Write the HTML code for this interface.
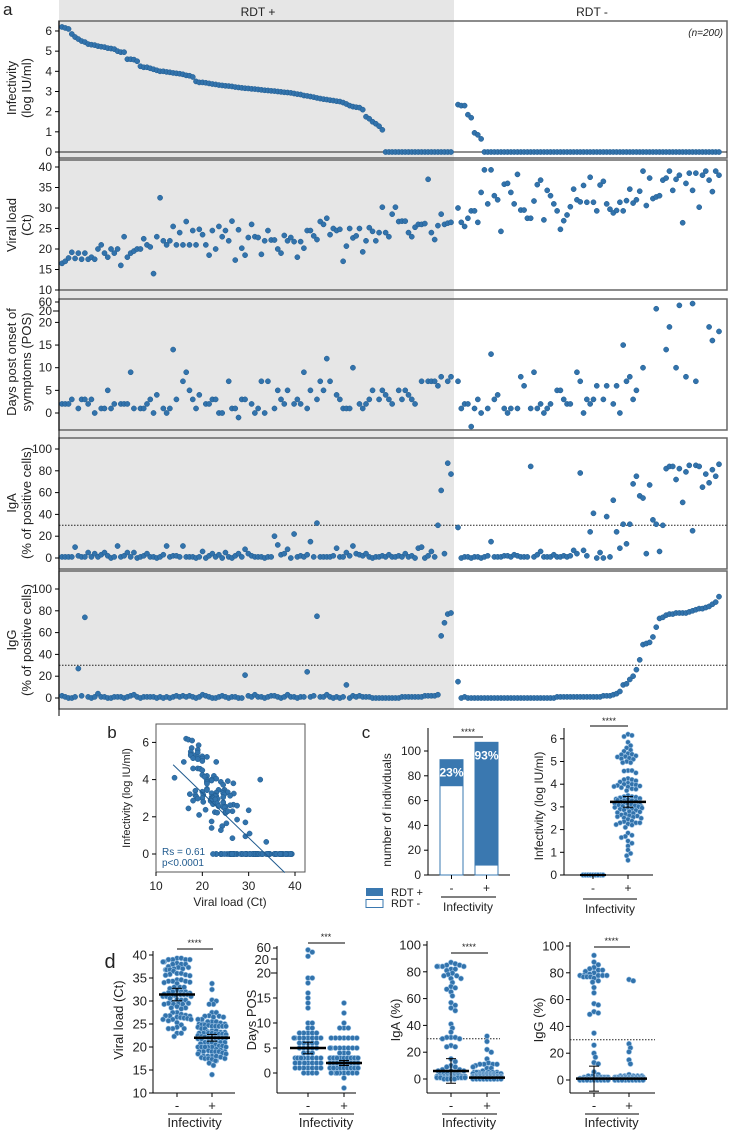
<!DOCTYPE html>
<html><head><meta charset="utf-8"><style>
html,body{margin:0;padding:0;background:#fff}
svg{display:block;font-family:"Liberation Sans",Arial,sans-serif}
</style></head><body>
<svg id="fig" xmlns="http://www.w3.org/2000/svg" width="730" height="1130" viewBox="0 0 730 1130"></svg>
<script>
// ---------- DATA ----------
const infectPos = [6.2,6.15,6.1,5.85,5.7,5.6,5.5,5.45,5.35,5.32,
5.3,5.25,5.22,5.2,5.15,5.13,5.1,5.0,4.95,4.95,
4.6,4.6,4.58,4.5,4.25,4.2,4.2,4.15,4.1,4.05,
4.0,4.0,3.97,3.95,3.92,3.9,3.88,3.85,3.8,3.78,
3.72,3.5,3.45,3.45,3.43,3.4,3.37,3.35,3.32,3.3,
3.28,3.27,3.25,3.22,3.2,3.18,3.16,3.15,3.13,3.12,
3.1,3.08,3.06,3.05,3.03,3.02,3.0,2.98,2.96,2.95,
2.93,2.9,2.87,2.85,2.8,2.78,2.75,2.72,2.68,2.65,
2.62,2.6,2.57,2.55,2.52,2.5,2.45,2.38,2.3,2.25,
2.22,2.2,2.1,1.75,1.65,1.5,1.4,1.28,1.1,0,
0,0,0,0,0,0,0,0,0,0,
0,0,0,0,0,0,0,0,0,0];
const infectNeg = [2.35,2.3,2.3,1.85,1.7,0.95,0.85,0.65,0,0,
0,0,0,0,0,0,0,0,0,0, 0,0,0,0,0,0,0,0,0,0, 0,0,0,0,0,0,0,0,0,0,
0,0,0,0,0,0,0,0,0,0, 0,0,0,0,0,0,0,0,0,0, 0,0,0,0,0,0,0,0,0,0, 0,0,0,0,0,0,0,0,0,0];
const viralPos = [16.5,17,17.8,19.2,17.7,19,17.5,19,17.5,18,
17.5,20,21,19,18,20,19,20,16,23,
18,19,19.5,20,20,22.5,21,20.5,14,23,
32.5,22,21,22,25.5,21,24,21,26.7,21,
24.5,21,24.8,23.5,21,18.5,24.5,20,25.5,23,
24.5,22,26.8,17.3,24.7,20.2,18.5,22.8,26,23,
22.8,18.7,22,24.5,22.2,22.2,20,19,23.3,22,
22.8,21.8,18,21.8,20.2,24.5,24.5,23.2,22.3,26.7,
26,27.5,23.5,25,24.5,24.8,17,20.7,25,22.7,
23.2,25,19.3,22,25.2,24.3,22,24,30.2,24,
23,28.5,30.2,26.7,26.8,26.8,24,23,25.3,26,
26,26.2,37,24,22.3,25.7,28.5,26,26.3,26.5];
const viralNeg = [30,26.5,25.5,27.5,29.3,29.3,26.5,33.8,39.3,31,
39.3,33,32,24.3,35.8,36,33.8,31,38.2,29.5,
29.5,27.5,27.5,31.7,35.7,36.8,27.1,34.3,33,31,
29.3,24.8,26.9,28.3,30.3,34.6,32,31.5,35.5,31.4,
37.5,31.4,29.3,35.6,36.5,31,29.7,28.8,29.4,31.4,
29.3,31.8,34.6,31.2,32,34.1,39,30.6,37.3,32.3,
32.7,33,36.8,37.3,39,34.3,37,38,26.4,36,
38.5,34.3,38.5,30.2,38,39,36.8,34,39,38];
const daysPos = [2,2,2,3,null,1,3,3,2,3,
0,null,1,1,5,1,2,null,2,2,
2,9,1,null,1,1,2,3,0,4,
null,1,0,1,14,3,null,7,9,5,
3,1,4,null,2,2,3,3,0,0,
null,7,1,1,-1,3,3,null,2,0,
1,7,0,7,null,1,5,3,2,5,
null,2,3,2,9,1,5,null,3,7,
5,12,7,null,4,3,1,1,1,10,
null,2,1,2,3,5,null,3,5,4,
3,2,null,5,3,5,4,3,2,null,
7,null,7,7,7,6,8,null,7,8];
const daysNeg = [7,1,2,2,-3,1,3,0,null,1,
13,3,4,null,1,0,1,null,1,8,
6,null,1,9,1,2,0,1,2,null,
5,5,3,2,2,null,9,7,0,3,
2,3,6,null,3,6,null,2,6,0,
15,7,8,3,5,null,10,null,null,null,
30,null,null,14,19,null,10,45,null,8,
null,53,7,null,null,null,19,16,null,18];
const igaPos = [1,1,1,1,10,2,1,1,5,1,
4,1,3,5,2,0,1,11,1,2,
5,1,5,0,1,2,4,1,1,0,
1,3,11,1,2,2,1,11,1,1,
1,0,1,6,0,2,4,1,3,0,
5,1,0,2,4,1,8,4,2,1,
1,1,0,1,1,20,12,3,4,8,
0,22,1,2,1,3,15,1,32,1,
1,1,1,2,9,1,1,5,2,11,
4,3,2,4,1,0,1,1,2,1,
3,1,1,2,1,4,1,2,0,9,
10,0,2,6,1,30,62,4,87,77];
const igaNeg = [28,0,1,1,0,1,1,0,1,2,
15,1,1,1,2,2,1,3,2,1,
1,1,84,1,3,6,1,1,1,3,
1,1,2,1,2,7,4,78,7,2,
24,41,0,5,0,38,1,53,24,9,
31,13,31,68,75,57,55,4,67,35,
31,6,30,82,84,84,72,82,51,79,
85,25,85,84,65,77,69,81,75,86];
const iggPos = [2,1,0,0,1,27,2,74,1,0,
1,4,1,1,0,0,1,1,1,0,
1,2,3,1,0,1,1,1,1,0,
1,0,1,0,1,2,1,2,1,2,
1,0,1,3,2,1,0,0,1,2,
1,0,1,1,0,0,21,2,1,3,
1,1,0,1,2,2,1,0,1,3,
1,1,0,1,1,24,1,2,75,1,
1,3,1,0,1,0,1,12,0,2,
1,2,1,1,1,0,0,0,0,0,
0,0,0,0,1,1,1,1,1,1,
1,2,2,2,2,3,57,69,77,78];
const iggNeg = [15,0,1,0,0,0,0,0,0,0,
0,0,0,0,0,0,0,0,0,0,
0,0,0,0,0,0,0,0,0,0,
1,1,1,1,1,1,1,1,1,1,
1,1,1,1,2,2,2,3,4,6,
12,13,17,20,26,35,49,50,51,56,
65,73,74,76,77,77,78,78,78,78,
79,80,81,82,82,83,84,86,88,93];
const panelTicks1 = [0,1,2,3,4,5,6];
const panelTicks2 = [10,15,20,25,30,35,40];
const panelTicks3 = [0,5,10,15,20];
const pctTicks = [0,20,40,60,80,100];
const regression = {x0:13.7, y0:4.8, x1:37.8, slope:-0.2407};
const rsText = ["Rs = 0.61","p<0.0001"];

// ---------- HELPERS ----------
const NS="http://www.w3.org/2000/svg";
const svg=document.getElementById('fig');
const BLUE="#3273ac", DARK="#1f5a8e";
function mk(tag, attrs, name, inter){
  const e=document.createElementNS(NS,tag);
  for(const k in attrs) e.setAttribute(k,attrs[k]);
  
  
  svg.appendChild(e); return e;
}
function line(x1,y1,x2,y2,name,st,w,dash){
  const a={x1,y1,x2,y2,stroke:st||'#000','stroke-width':w||1};
  if(dash) a['stroke-dasharray']=dash;
  return mk('line',a,name,false);
}
function text(x,y,s,name,opt){
  opt=opt||{};
  const a={x,y,'font-size':opt.size||12,'text-anchor':opt.anchor||'middle',fill:opt.fill||'#222'};
  if(opt.rot!=null) a.transform=`rotate(${opt.rot} ${x} ${y})`;
  if(opt.italic) a['font-style']='italic';
  if(opt.weight) a['font-weight']=opt.weight;
  const t=mk('text',a,name,false); t.textContent=s; return t;
}
function dot(x,y,r,name,stroke){
  return mk('circle',{cx:x.toFixed(2),cy:y.toFixed(2),r,fill:BLUE,stroke:stroke||DARK,'stroke-width':stroke?0.6:0.5},name,false);
}

// ---------- PANEL A ----------
mk('rect',{x:59,y:0,width:395,height:709,fill:'#e6e6e6'},'rdt-positive-shading',false);
text(258,16,'RDT +','rdt-positive-header',{size:12});
text(592,16,'RDT -','rdt-negative-header',{size:12});
text(3,15,'a','panel-a-label',{size:17,anchor:'start'});
const xPos=i=>62+i*(451-62)/(infectPos.length-1);
const xNeg=k=>458+k*(719-458)/(infectNeg.length-1);

function daysY(top,v,zero,scale,b20,b60){ if(v<=20) return zero-v*scale; return b20-(v-20)*(b20-b60)/40; }

const panels=[
 {name:'infectivity',pos:infectPos,neg:infectNeg,top:21,bot:158,y:v=>152-v*20.17,ticks:panelTicks1,lab:['Infectivity','(log IU/ml)'],ly:88},
 {name:'viral-load',pos:viralPos,neg:viralNeg,top:160,bot:290,y:v=>290-(v-10)*4.1,ticks:panelTicks2,lab:['Viral load','(Ct)'],ly:225},
 {name:'days-pos',pos:daysPos,neg:daysNeg,top:299,bot:430,y:v=>daysY(0,v,413,4.53,311,302),ticks:panelTicks3,lab:['Days post onset of','symptoms (POS)'],ly:362,broken:true},
 {name:'iga',pos:igaPos,neg:igaNeg,top:438,bot:569,y:v=>558-v*1.09,ticks:pctTicks,lab:['IgA','(% of positive cells)'],ly:503,thr:30},
 {name:'igg',pos:iggPos,neg:iggNeg,top:571,bot:709,y:v=>698-v*1.09,ticks:pctTicks,lab:['IgG','(% of positive cells)'],ly:640,thr:30}
];
panels.forEach(p=>{
  mk('rect',{x:59,y:p.top,width:668,height:p.bot-p.top,fill:'none',stroke:'#666','stroke-width':1.5},p.name+'-panel-frame',false);
  p.ticks.forEach(t=>{const y=p.y(t); line(55,y,59,y,p.name+'-tick'); text(52,y+4,String(t),p.name+'-tick-label',{anchor:'end',size:12});});
  if(p.broken){
    line(55,302,59,302,'days-tick-60'); text(52,306,'60','days-tick-label-60',{anchor:'end',size:12});
    line(53,311,59,311,'days-tick-20-upper'); text(52,315,'20','days-tick-label-20-upper',{anchor:'end',size:12});
  }
  if(p.thr!=null) line(59,p.y(p.thr),727,p.y(p.thr),p.name+'-threshold-line','#222',1,'1.5,1.5');
  if(p.name==='infectivity') line(59,152,727,152,'infectivity-zero-line','#222',1);
  text(16,p.ly,p.lab[0],p.name+'-axis-title',{rot:-90,size:13});
  text(31,p.ly,p.lab[1],p.name+'-axis-title-units',{rot:-90,size:13});
  p.pos.forEach((v,i)=>{ if(v!=null) dot(xPos(i),p.y(v),2.6,p.name+'-point-rdt-pos'); });
  p.neg.forEach((v,k)=>{ if(v!=null) dot(xNeg(k),p.y(v),2.6,p.name+'-point-rdt-neg'); });
});
line(59,21,59,716,'panel-a-y-axis');
text(723,36,'(n=200)','sample-size-note',{anchor:'end',size:10,italic:true});

// ---------- PANEL B ----------
text(112,738,'b','panel-b-label',{size:17});
const bx=c=>156+(c-10)*4.633, by=v=>854-v*18.6;
mk('rect',{x:156,y:724,width:149,height:148,fill:'none',stroke:'#555','stroke-width':1},'scatter-frame',false);
[10,20,30,40].forEach(t=>{line(bx(t),872,bx(t),876,'scatter-x-tick'); text(bx(t),890,String(t),'scatter-x-tick-label',{size:12});});
[0,2,4,6].forEach(t=>{line(152,by(t),156,by(t),'scatter-y-tick'); text(149,by(t)+4,String(t),'scatter-y-tick-label',{anchor:'end',size:12});});
text(230,906,'Viral load (Ct)','scatter-x-axis-title',{size:12});
text(130,798,'Infectivity (log IU/ml)','scatter-y-axis-title',{rot:-90,size:11});
const allInf=infectPos.concat(infectNeg), allVir=viralPos.concat(viralNeg);
allInf.forEach((v,i)=>dot(bx(allVir[i]),by(v),2.6,'scatter-point'));
line(bx(regression.x0),by(regression.y0),bx(regression.x1),by(regression.y0+regression.slope*(regression.x1-regression.x0)),'regression-line',DARK,1);
text(162,855,rsText[0],'spearman-rs',{anchor:'start',size:10,fill:DARK});
text(162,866,rsText[1],'spearman-p',{anchor:'start',size:10,fill:DARK});

// ---------- PANEL C (bars) ----------
text(366,738,'c','panel-c-label',{size:17});
const cy=v=>875-v*1.24;
const negIdx=[],posIdx=[];
allInf.forEach((v,i)=>{(v>0?posIdx:negIdx).push(i);});
const nRDTneg=g=>g.filter(i=>i>=120).length;
const groups=[{g:negIdx,x:440,lab:'-'},{g:posIdx,x:475,lab:'+'}];
line(428,728,428,875,'bar-y-axis'); line(428,875,510,875,'bar-x-axis');
pctTicks.forEach(t=>{line(424,cy(t),428,cy(t),'bar-y-tick'); text(421,cy(t)+4,String(t),'bar-y-tick-label',{anchor:'end',size:12});});
groups.forEach((G,j)=>{
  const tot=G.g.length, neg=nRDTneg(G.g);
  mk('rect',{x:G.x,y:cy(tot),width:23,height:(tot-neg)*1.24,fill:'#3a78b0',stroke:'#3a78b0','stroke-width':1},'bar-rdt-pos-'+(j?'plus':'minus'),false);
  mk('rect',{x:G.x,y:cy(neg),width:23,height:neg*1.24,fill:'#fff',stroke:'#3a78b0','stroke-width':1},'bar-rdt-neg-'+(j?'plus':'minus'),false);
  const pct=Math.round(100*(tot-neg)/tot)+'%';
  text(G.x+11.5,cy(tot)+17,pct,'bar-percent-label',{size:12,fill:'#fff',weight:'bold'});
  line(G.x+11.5,875,G.x+11.5,879,'bar-x-tick');
  text(G.x+11.5,892,G.lab,'bar-x-tick-label',{size:12});
});
line(453,737,483,737,'bar-significance-line'); text(468,735,'****','bar-significance-stars',{size:9});
line(441,897,496,897,'bar-group-line'); text(468,911,'Infectivity','bar-x-axis-title',{size:12});
text(391,810,'number of individuals','bar-y-axis-title',{rot:-90,size:12});
mk('rect',{x:366,y:888,width:17,height:8,fill:'#3a78b0'},'legend-swatch-rdt-pos',false);
mk('rect',{x:366,y:899.5,width:17,height:8,fill:'#fff',stroke:'#3a78b0','stroke-width':1},'legend-swatch-rdt-neg',false);
text(391,896,'RDT +','legend-label-rdt-pos',{anchor:'start',size:11});
text(391,907,'RDT -','legend-label-rdt-neg',{anchor:'start',size:11});

// ---------- SWARM ----------
function swarm(vals,cx,yf,r,name,stroke,maxW){
  const pts=vals.filter(v=>v!=null).map(v=>({v,y:yf(v)})).sort((a,b)=>a.y-b.y);
  const placed=[]; const d=2*r*0.8; const step=r*0.55;
  let fallback=0;
  pts.forEach(p=>{
    let best=null;
    for(let k=0;k*step<=maxW;k++){
      const cands=k===0?[0]:[k*step,-k*step];
      for(const dx of cands){
        if(placed.every(q=>Math.abs(q.y-p.y)>=d||Math.hypot(q.x-dx,q.y-p.y)>=d)){best=dx;break;}
      }
      if(best!==null) break;
    }
    if(best===null){ best=((fallback%9)-4)/4*maxW; fallback++; }
    placed.push({x:best,y:p.y});
    dot(cx+best,p.y,r,name,stroke);
  });
}
function stats(vals){
  const s=vals.filter(v=>v!=null).slice().sort((a,b)=>a-b);
  const q=f=>{const i=(s.length-1)*f,lo=Math.floor(i);return s[lo]+(s[Math.min(lo+1,s.length-1)]-s[lo])*(i-lo);};
  const med=q(0.5),iqr=q(0.75)-q(0.25),ci=1.58*iqr/Math.sqrt(s.length);
  return {med,lo:med-ci,hi:med+ci};
}
function medianMark(cx,vals,yf,name){
  const s=stats(vals);
  line(cx-18,yf(s.med),cx+18,yf(s.med),name+'-median',"#000",2.5);
  line(cx,yf(s.lo),cx,yf(s.hi),name+'-ci',"#000",1);
  line(cx-5,yf(s.lo),cx+5,yf(s.lo),name+'-ci-cap',"#000",1);
  line(cx-5,yf(s.hi),cx+5,yf(s.hi),name+'-ci-cap',"#000",1);
}
const grp=(arrP,arrN)=>{const all=arrP.concat(arrN);return [negIdx.map(i=>all[i]),posIdx.map(i=>all[i])];};

// c right
const iy=v=>875-v*22.7;
line(564,728,564,875,'infectivity-swarm-y-axis'); line(564,875,653,875,'infectivity-swarm-x-axis');
panelTicks1.forEach(t=>{line(560,iy(t),564,iy(t),'infectivity-swarm-tick'); text(557,iy(t)+4,String(t),'infectivity-swarm-tick-label',{anchor:'end',size:12});});
const gi=grp(infectPos,infectNeg);
swarm(gi[0],593,iy,2.4,'infectivity-swarm-point-neg','#9ec4e6',10);
swarm(gi[1],628,iy,2.4,'infectivity-swarm-point-pos','#9ec4e6',14);
medianMark(628,gi[1],iy,'infectivity-swarm');
line(580,iy(0),606,iy(0),'infectivity-swarm-median-neg','#000',2);
[[593,'-'],[628,'+']].forEach(a=>{line(a[0],875,a[0],879,'infectivity-swarm-x-tick'); text(a[0],892,a[1],'infectivity-swarm-x-tick-label',{size:12});});
line(590,726,628,726,'infectivity-swarm-significance-line'); text(609,724,'****','infectivity-swarm-stars',{size:9});
line(583,899,637,899,'infectivity-swarm-group-line'); text(610,913,'Infectivity','infectivity-swarm-x-axis-title',{size:12});
text(543,806,'Infectivity (log IU/ml)','infectivity-swarm-y-axis-title',{rot:-90,size:12});

// ---------- PANEL D ----------
text(110,968,'d','panel-d-label',{size:20});
const dPanels=[
 {name:'d-viral-load',ax:153,right:235,c1:177,c2:212,y:v=>1093-(v-10)*4.6,ticks:panelTicks2,data:grp(viralPos,viralNeg),title:'Viral load (Ct)',tx:123,stars:'****',sy:949},
 {name:'d-days-pos',ax:277,right:356,c1:308,c2:344,y:v=>v<=20?1073-v*5:959-(v-20)*0.275,ticks:panelTicks3,data:grp(daysPos,daysNeg),title:'Days POS',tx:256,stars:'***',sy:943,broken:true},
 {name:'d-iga',ax:427,right:500,c1:451,c2:487,y:v=>1079-v*1.34,ticks:pctTicks,data:grp(igaPos,igaNeg),title:'IgA (%)',tx:400,stars:'****',sy:953,thr:30},
 {name:'d-igg',ax:570,right:655,c1:594,c2:629,y:v=>1080-v*1.34,ticks:pctTicks,data:grp(iggPos,iggNeg),title:'IgG (%)',tx:543,stars:'****',sy:947,thr:30}
];
dPanels.forEach(p=>{
  const top=p.broken?946:p.y(p.ticks[p.ticks.length-1])-4;
  line(p.ax,top,p.ax,1093,p.name+'-y-axis'); line(p.ax,1093,p.right,1093,p.name+'-x-axis');
  p.ticks.forEach(t=>{line(p.ax-4,p.y(t),p.ax,p.y(t),p.name+'-tick'); text(p.ax-6,p.y(t)+4.5,String(t),p.name+'-tick-label',{anchor:'end',size:13});});
  if(p.broken){
    line(p.ax-4,948,p.ax,948,p.name+'-tick-60'); text(p.ax-6,952,'60',p.name+'-tick-label-60',{anchor:'end',size:13});
    line(p.ax-6,959,p.ax,959,p.name+'-tick-20-upper'); text(p.ax-8,964,'20',p.name+'-tick-label-20-upper',{anchor:'end',size:13});
    line(p.ax-6,973,p.ax,973,p.name+'-break-mark');
  }
  if(p.thr!=null) line(p.ax,p.y(p.thr),p.right,p.y(p.thr),p.name+'-threshold-line','#222',1,'1.5,1.5');
  swarm(p.data[0],p.c1,p.y,2.6,p.name+'-point-neg','#9ec4e6',14);
  swarm(p.data[1],p.c2,p.y,2.6,p.name+'-point-pos','#9ec4e6',14);
  medianMark(p.c1,p.data[0],p.y,p.name+'-neg');
  medianMark(p.c2,p.data[1],p.y,p.name+'-pos');
  [[p.c1,'-'],[p.c2,'+']].forEach(a=>{line(a[0],1093,a[0],1097,p.name+'-x-tick'); text(a[0],1110,a[1],p.name+'-x-tick-label',{size:13});});
  line(p.c1,p.sy,p.c2+1,p.sy,p.name+'-significance-line'); text((p.c1+p.c2)/2,p.sy-3,p.stars,p.name+'-stars',{size:9});
  line(p.c1-9,1114,p.c2+10,1114,p.name+'-group-line'); text((p.c1+p.c2)/2,1127,'Infectivity',p.name+'-x-axis-title',{size:13});
  text(p.tx,1020,p.title,p.name+'-y-axis-title',{rot:-90,size:13});
});
</script>
</body></html>
